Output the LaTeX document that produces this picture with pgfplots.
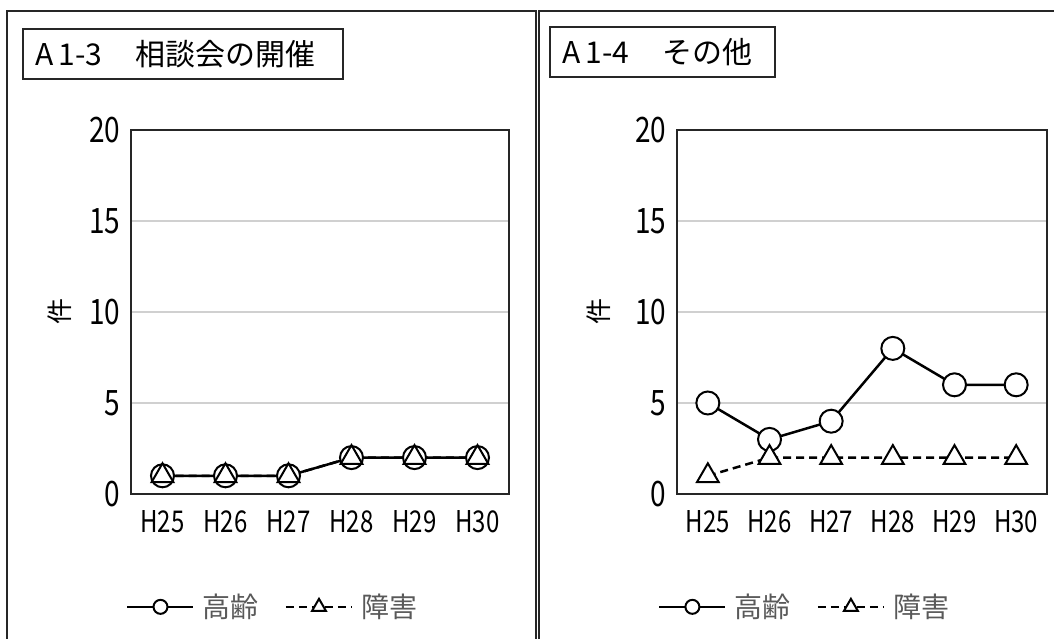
\documentclass[border=0pt]{standalone}
\usepackage{fontspec}
\setmainfont{Noto Sans CJK JP}
\newfontfamily\narrowfont[FakeStretch=0.8]{Noto Sans CJK JP}
\usepackage{pgfplots}
\pgfplotsset{compat=1.18}
\definecolor{framec}{HTML}{262626}
\definecolor{gridc}{HTML}{D0D0D0}
\definecolor{legtext}{HTML}{595959}
\pgfplotsset{
  panel/.style={
    scale only axis, height=364pt,
    xmin=-0.5, xmax=5.5, ymin=0, ymax=20,
    xtick={0,1,2,3,4,5}, xticklabels={H25,H26,H27,H28,H29,H30},
    ytick={0,5,10,15,20}, yticklabels={0,5,10,15,20},
    major tick length=0pt,
    ymajorgrids, grid style={gridc, line width=1.5pt},
    axis line style={framec, line width=1.5pt},
    xticklabel style={font=\narrowfont\fontsize{30}{30}\selectfont, black, yshift=-13pt},
    yticklabel style={font=\narrowfont\fontsize{35}{35}\selectfont, black, xshift=-7pt},
    ylabel={件},
    ylabel style={font=\fontsize{26}{26}\selectfont, anchor=center},
    legend style={draw=none, fill=none, anchor=center, legend columns=-1,
      font=\fontsize{28}{28}\selectfont\color{legtext},
      /tikz/every odd column/.append style={column sep=6pt},
      /tikz/every even column/.append style={column sep=24pt}},
    legend image code/.code={\draw[mark repeat=2,mark phase=2,##1] plot coordinates {(0pt,0pt) (33pt,0pt) (66pt,0pt)};},
  },
  koreiline/.style={black, line width=2.5pt, mark=*, mark size=11.5pt, mark options={fill=white, solid, line width=2pt}},
  shogailine/.style={black, line width=2.5pt, dash pattern=on 8pt off 5pt, mark=triangle*, mark size=12.5pt, mark options={fill=white, solid, line width=2pt}},
}
\begin{document}
\begin{tikzpicture}[x=1pt,y=1pt]
\useasboundingbox (0,0) rectangle (1054,639);
% panel frames
\draw[framec, line width=2pt] (7,-10) -- (7,628) -- (536,628) -- (536,-10);
\draw[framec, line width=2pt] (539,-10) -- (539,628) -- (1070,628);
% title boxes
\draw[framec, line width=1.5pt] (23,560) rectangle (343,610);
\node[anchor=west, inner sep=0pt] at (35,585) {\fontsize{30}{30}\selectfont A\,1-3\hspace{1.1em}相談会の開催};
\draw[framec, line width=1.5pt] (550,562) rectangle (775,612);
\node[anchor=west, inner sep=0pt] at (562,587) {\fontsize{30}{30}\selectfont A\,1-4\hspace{1.1em}その他};

\begin{axis}[panel, at={(131pt,145pt)}, anchor=south west, width=378pt,
  ylabel style={at={(axis description cs:-0.188,0.5)}},
  legend style={at={(axis description cs:0.375,-0.31)}}]
  \addlegendimage{black, line width=2.5pt, mark=*, mark size=7pt, mark options={fill=white, solid, line width=2pt}}
  \addlegendentry{高齢}
  \addlegendimage{black, line width=2.5pt, dash pattern=on 8pt off 5pt, mark=triangle*, mark size=8pt, mark options={fill=white, solid, line width=2pt}}
  \addlegendentry{障害}
  \addplot[koreiline, forget plot] coordinates {(0,1) (1,1) (2,1) (3,2) (4,2) (5,2)};
  \addplot[shogailine, forget plot] coordinates {(0,1) (1,1) (2,1) (3,2) (4,2) (5,2)};
\end{axis}

\begin{axis}[panel, at={(677pt,145pt)}, anchor=south west, width=370pt,
  ylabel style={at={(axis description cs:-0.213,0.5)}},
  legend style={at={(axis description cs:0.345,-0.31)}}]
  \addlegendimage{black, line width=2.5pt, mark=*, mark size=7pt, mark options={fill=white, solid, line width=2pt}}
  \addlegendentry{高齢}
  \addlegendimage{black, line width=2.5pt, dash pattern=on 8pt off 5pt, mark=triangle*, mark size=8pt, mark options={fill=white, solid, line width=2pt}}
  \addlegendentry{障害}
  \addplot[koreiline, forget plot] coordinates {(0,5) (1,3) (2,4) (3,8) (4,6) (5,6)};
  \addplot[shogailine, forget plot] coordinates {(0,1) (1,2) (2,2) (3,2) (4,2) (5,2)};
\end{axis}
\end{tikzpicture}
\end{document}
